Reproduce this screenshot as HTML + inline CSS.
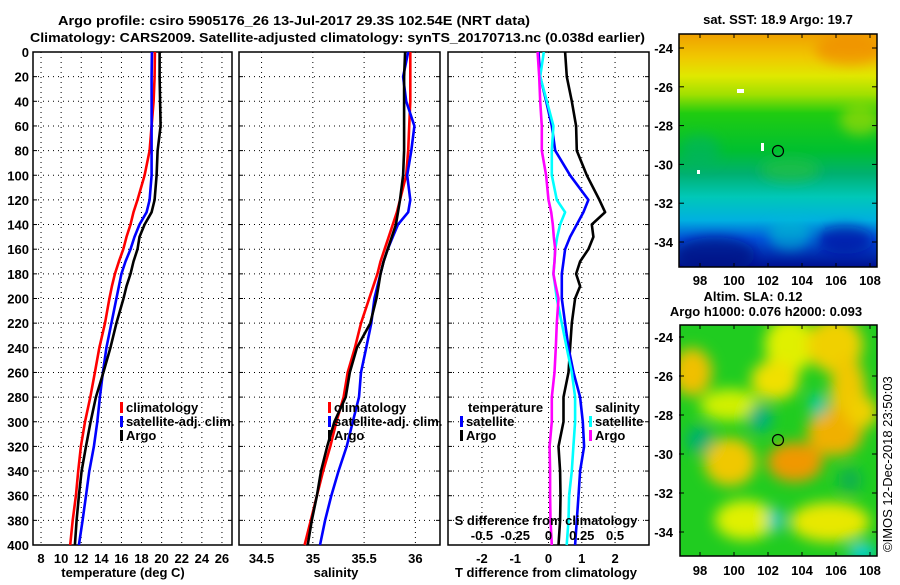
<!DOCTYPE html>
<html><head><meta charset="utf-8">
<style>
html,body{margin:0;padding:0;background:#fff;}
svg text{font-family:"Liberation Sans",sans-serif;font-weight:bold;font-size:13px;fill:#000;}
</style></head>
<body>
<svg id="chart" width="900" height="580" xmlns="http://www.w3.org/2000/svg">
<defs>
<linearGradient id="sstg" x1="0" y1="0" x2="0" y2="1">
<stop offset="0" stop-color="#f0a000"/><stop offset="0.1" stop-color="#f0c800"/>
<stop offset="0.18" stop-color="#e0e800"/><stop offset="0.26" stop-color="#a0e000"/>
<stop offset="0.34" stop-color="#20cc10"/><stop offset="0.5" stop-color="#00c030"/>
<stop offset="0.6" stop-color="#00b070"/><stop offset="0.7" stop-color="#00c8b8"/>
<stop offset="0.8" stop-color="#00b0e0"/><stop offset="0.88" stop-color="#0050d8"/>
<stop offset="1" stop-color="#001090"/>
</linearGradient>
<filter id="blur" x="-50%" y="-50%" width="200%" height="200%"><feGaussianBlur stdDeviation="6"/></filter>
<filter id="blur2" x="-50%" y="-50%" width="200%" height="200%"><feGaussianBlur stdDeviation="7"/></filter>
<clipPath id="clipT"><rect x="679" y="34" width="198" height="233"/></clipPath>
<clipPath id="clipB"><rect x="680" y="325" width="197" height="231"/></clipPath>
</defs>
<text x="58" y="25" textLength="472" lengthAdjust="spacingAndGlyphs">Argo profile: csiro 5905176_26 13-Jul-2017 29.3S 102.54E (NRT data)</text>
<text x="30" y="42" textLength="615" lengthAdjust="spacingAndGlyphs">Climatology: CARS2009. Satellite-adjusted climatology: synTS_20170713.nc (0.038d earlier)</text>
<g id="panels"></g>
<g id="maps">
  <text x="778" y="24" text-anchor="middle">sat. SST: 18.9 Argo: 19.7</text>
  <g clip-path="url(#clipT)">
    <rect x="679" y="34" width="198" height="233" fill="url(#sstg)"/>
    <g filter="url(#blur)">
      <ellipse cx="850" cy="50" rx="35" ry="15" fill="#f08000" opacity="0.6"/>
      <ellipse cx="860" cy="120" rx="20" ry="15" fill="#d0e000" opacity="0.5"/>
      <ellipse cx="700" cy="150" rx="20" ry="15" fill="#00b070" opacity="0.5"/>
      <ellipse cx="790" cy="170" rx="30" ry="12" fill="#30c830" opacity="0.5"/>
      <ellipse cx="715" cy="255" rx="40" ry="18" fill="#000c80" opacity="0.7"/>
      <ellipse cx="845" cy="240" rx="28" ry="14" fill="#0010a0" opacity="0.7"/>
      <ellipse cx="790" cy="235" rx="22" ry="15" fill="#00c0d0" opacity="0.6"/>
    </g>
    <rect x="737" y="89" width="7" height="4" fill="#fff"/>
    <rect x="761" y="143" width="3" height="8" fill="#fff"/>
    <rect x="697" y="170" width="3" height="4" fill="#fff"/>
    <circle cx="778" cy="151" r="5.5" fill="none" stroke="#000" stroke-width="1.2"/>
  </g>
  <rect x="679" y="34" width="198" height="233" fill="none" stroke="#000" stroke-width="1.5"/>
  <text x="753" y="301" text-anchor="middle">Altim. SLA: 0.12</text>
  <text x="766" y="316" text-anchor="middle">Argo h1000: 0.076 h2000: 0.093</text>
  <g clip-path="url(#clipB)">
    <rect x="680" y="325" width="197" height="231" fill="#20cc20"/>
    <g filter="url(#blur2)">
      <ellipse cx="790" cy="345" rx="25" ry="28" fill="#e0f000"/>
      <ellipse cx="835" cy="345" rx="28" ry="28" fill="#f0d000"/>
      <ellipse cx="692" cy="372" rx="20" ry="24" fill="#f0c000"/>
      <ellipse cx="775" cy="380" rx="24" ry="20" fill="#f0e000"/>
      <ellipse cx="848" cy="395" rx="18" ry="40" fill="#f0c800"/>
      <ellipse cx="730" cy="405" rx="30" ry="16" fill="#d0f000"/>
      <ellipse cx="835" cy="432" rx="28" ry="24" fill="#f0b000"/>
      <ellipse cx="730" cy="462" rx="26" ry="24" fill="#f0c800"/>
      <ellipse cx="795" cy="462" rx="28" ry="20" fill="#f09800"/>
      <ellipse cx="862" cy="412" rx="16" ry="16" fill="#f0d000"/>
      <ellipse cx="745" cy="520" rx="30" ry="20" fill="#e0f000"/>
      <ellipse cx="830" cy="522" rx="40" ry="20" fill="#e8e800"/>
      <ellipse cx="760" cy="418" rx="12" ry="14" fill="#00b080"/>
      <ellipse cx="818" cy="405" rx="8" ry="12" fill="#00c8b0"/>
      <ellipse cx="776" cy="520" rx="8" ry="12" fill="#00c8c0"/>
      <ellipse cx="862" cy="552" rx="14" ry="8" fill="#00d0f0"/>
      <ellipse cx="700" cy="440" rx="14" ry="14" fill="#00b070"/>
      <ellipse cx="850" cy="480" rx="12" ry="12" fill="#10b050"/>
    </g>
    <circle cx="778" cy="440" r="5.5" fill="none" stroke="#000" stroke-width="1.2"/>
  </g>
  <rect x="680" y="325" width="197" height="231" fill="none" stroke="#000" stroke-width="1.5"/>
  <g id="mapticks"></g>
  <text transform="translate(892,552) rotate(-90)" font-size="12" style="font-weight:normal">©IMOS 12-Dec-2018 23:50:03</text>
</g>
</svg>
<script>
const depths = [0,20,40,60,80,100,120,130,140,150,160,170,180,190,200,220,240,260,280,300,320,340,360,380,400];
const tClim = [19.33,19.3,19.2,19.0,18.8,18.3,17.6,17.2,16.9,16.5,16.18,15.75,15.35,15.05,14.8,14.36,13.8,13.36,12.9,12.37,11.97,11.7,11.47,11.15,10.9];
const tSat  = [19.03,19.0,19.0,19.0,19.0,19.0,18.8,18.5,17.8,17.3,16.9,16.4,16.0,15.75,15.5,15.0,14.5,14.15,13.86,13.6,13.26,12.8,12.47,12.14,11.77];
const tArgo = [19.8,19.8,19.85,19.9,19.6,19.5,19.3,19.0,18.3,17.8,17.6,17.2,16.9,16.5,16.2,15.5,14.9,14.2,13.46,12.93,12.47,12.04,11.77,11.54,11.37];
const sClim = [35.95,35.95,35.95,35.94,35.93,35.91,35.85,35.82,35.78,35.74,35.70,35.66,35.63,35.59,35.55,35.47,35.41,35.34,35.30,35.23,35.17,35.10,35.04,34.98,34.92];
const sSat  = [35.93,35.88,35.91,35.99,35.96,35.92,35.95,35.93,35.83,35.78,35.73,35.69,35.66,35.63,35.60,35.57,35.52,35.47,35.45,35.39,35.33,35.25,35.18,35.12,35.07];
const sArgo = [35.90,35.89,35.89,35.89,35.89,35.88,35.85,35.83,35.81,35.77,35.73,35.69,35.66,35.64,35.62,35.56,35.43,35.36,35.32,35.21,35.14,35.08,35.04,34.99,34.95];
const dTSat  = [-0.3,-0.25,-0.07,0.1,0.2,0.65,1.2,1.05,0.85,0.65,0.5,0.45,0.4,0.4,0.4,0.5,0.6,0.75,0.95,1.03,1.07,0.95,0.9,0.85,0.8];
const dTArgo = [0.5,0.55,0.7,0.83,0.85,1.15,1.53,1.7,1.3,1.35,1.2,0.95,0.83,0.95,0.8,0.7,0.65,0.6,0.45,0.45,0.3,0.35,0.36,0.35,0.3];
const dSSat  = [-0.035,-0.062,-0.012,0.037,0.025,0.025,0.062,0.125,0.087,0.065,0.05,0.045,0.037,0.05,0.062,0.1,0.137,0.175,0.2,0.2,0.187,0.175,0.155,0.15,0.137];
const dSArgo = [-0.082,-0.07,-0.062,-0.05,-0.05,-0.018,0,0.02,0.032,0.04,0.05,0.045,0.037,0.055,0.075,0.062,0.055,0.045,0.025,0.025,0.008,0.012,0.012,0.015,0.025];
const depthTicks = [0,20,40,60,80,100,120,140,160,180,200,220,240,260,280,300,320,340,360,380,400];
const tTicks = [8,10,12,14,16,18,20,22,24,26];
const sTicks = [34.5,35,35.5,36];
const sTickLabels = ['34.5','35','35.5','36'];
const dTTicks = [-2,-1,0,1,2];
const dSTicks = [-0.5,-0.25,0,0.25,0.5];
const dSTickLabels = ['-0.5','-0.25','0','0.25','0.5'];
const latTicks = [-24,-26,-28,-30,-32,-34];
const lonTicks = [98,100,102,104,106,108];

const NS='http://www.w3.org/2000/svg';
function mk(tag, attrs, parent){const e=document.createElementNS(NS,tag);for(const k in attrs)e.setAttribute(k,attrs[k]);parent.appendChild(e);return e;}
const yTop=52, yBot=545;
const yD = d => yTop + d/400*(yBot-yTop);
const panelsG=document.getElementById('panels');

const panels=[
 {name:'temperature-panel', x0:33, x1:232, v0:7.2, v1:27.0, ticks:tTicks, labels:tTicks.map(String), title:'temperature (deg C)', tx:123,
  series:[[tClim,'#ff0000','climatology-line'],[tSat,'#0000ff','satellite-adj-line'],[tArgo,'#000000','argo-temperature-line']]},
 {name:'salinity-panel', x0:239, x1:440, v0:34.28, v1:36.24, ticks:sTicks, labels:sTickLabels, title:'salinity', tx:336,
  series:[[sClim,'#ff0000','climatology-salinity-line'],[sSat,'#0000ff','satellite-adj-salinity-line'],[sArgo,'#000000','argo-salinity-line']]},
 {name:'difference-panel', x0:448, x1:649, v0:-3.02, v1:3.02, ticks:dTTicks, labels:dTTicks.map(String), title:'T difference from climatology', tx:546,
  series:[[dTArgo,'#000000','argo-t-diff-line'],[dTSat,'#0000ff','satellite-t-diff-line'],[dSSat.map(v=>v*4),'#00ffff','satellite-s-diff-line'],[dSArgo.map(v=>v*4),'#ff00ff','argo-s-diff-line']]}
];

panels.forEach((p,pi)=>{
  const g=mk('g',{},panelsG);
  
  
  const xs = v => p.x0 + (v-p.v0)/(p.v1-p.v0)*(p.x1-p.x0);
  depthTicks.forEach(d=>{ if(d>0&&d<400){ const l=mk('line',{x1:p.x0,x2:p.x1,y1:yD(d),y2:yD(d),stroke:'#000','stroke-width':1,'stroke-dasharray':'1,4'},g);
     }
    const tk=mk('line',{x1:p.x0,x2:p.x0+4,y1:yD(d),y2:yD(d),stroke:'#000'},g);
     
    const tk2=mk('line',{x1:p.x1-4,x2:p.x1,y1:yD(d),y2:yD(d),stroke:'#000'},g);
     
  });
  p.ticks.forEach((t,i)=>{
    const l=mk('line',{x1:xs(t),x2:xs(t),y1:yTop,y2:yBot,stroke:'#000','stroke-width':1,'stroke-dasharray':'1,4'},g);
     
    const tx=mk('text',{x:xs(t),y:563,'text-anchor':'middle'},g); tx.textContent=p.labels[i];
     
  });
  const fr=mk('rect',{x:p.x0,y:yTop,width:p.x1-p.x0,height:yBot-yTop,fill:'none',stroke:'#000','stroke-width':1.5},g);
   
  const at=mk('text',{x:p.tx,y:577,'text-anchor':'middle'},g); at.textContent=p.title;
   
  p.series.forEach(s=>{
    const pts=s[0].map((v,i)=>xs(v).toFixed(1)+','+yD(depths[i]).toFixed(1)).join(' ');
    const pl=mk('polyline',{points:pts,fill:'none',stroke:s[1],'stroke-width':2.6,'stroke-linejoin':'round'},g);
    
    
  });
});
depthTicks.forEach(d=>{
  const t=mk('text',{x:29,y:yD(d)+5,'text-anchor':'end'},panelsG); t.textContent=String(d);
   
});
{
  const xs = v => 448 + (v*4+3.02)/6.04*201;
  dSTicks.forEach((v,i)=>{
    const t=mk('text',{x:xs(v),y:540,'text-anchor':'middle'},panelsG); t.textContent=dSTickLabels[i];
     
  });
  const st=mk('text',{x:546,y:525,'text-anchor':'middle'},panelsG); st.textContent='S difference from climatology';
   
}
function legend(x,y,color,label){
  const g=mk('g',{},panelsG);
  
  
  mk('rect',{x:x,y:y-10,width:3,height:11,fill:color},g);
  const t=mk('text',{x:x+6,y:y},g); t.textContent=label;
}
legend(120,412,'#ff0000','climatology');
legend(120,426,'#0000ff','satellite-adj. clim.');
legend(120,440,'#000000','Argo');
legend(328,412,'#ff0000','climatology');
legend(328,426,'#0000ff','satellite-adj. clim.');
legend(328,440,'#000000','Argo');
{const t=mk('text',{x:468,y:412},panelsG); t.textContent='temperature';
  }
legend(460,426,'#0000ff','satellite');
legend(460,440,'#000000','Argo');
{const t=mk('text',{x:595,y:412},panelsG); t.textContent='salinity';
  }
legend(589,426,'#00ffff','satellite');
legend(589,440,'#ff00ff','Argo');

const mt=document.getElementById('mapticks');
[[34,267,48,19.4,285],[325,556,337,19.5,575]].forEach(m=>{
  const [y0,y1,ya,sc,ly]=m;
  latTicks.forEach(la=>{
    const y=ya+(-24-la)*sc;
    const t=mk('text',{x:673,y:y+5,'text-anchor':'end'},mt); t.textContent=String(la);
     
    mk('line',{x1:679,x2:684,y1:y,y2:y,stroke:'#000'},mt);
    mk('line',{x1:872,x2:877,y1:y,y2:y,stroke:'#000'},mt);
  });
  lonTicks.forEach(lo=>{
    const x=700+(lo-98)*17;
    const t=mk('text',{x:x,y:ly,'text-anchor':'middle'},mt); t.textContent=String(lo);
     
    mk('line',{x1:x,x2:x,y1:y0,y2:y0+4,stroke:'#000'},mt);
    mk('line',{x1:x,x2:x,y1:y1-4,y2:y1,stroke:'#000'},mt);
  });
});
</script>
</body></html>
